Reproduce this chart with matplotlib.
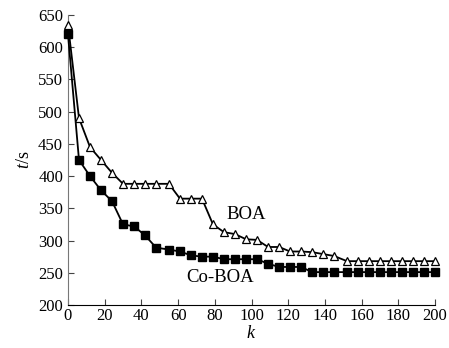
import matplotlib
matplotlib.use("Agg")
import matplotlib.pyplot as plt

plt.rcParams['font.family'] = 'Liberation Serif'
plt.rcParams['mathtext.fontset'] = 'custom'
plt.rcParams['mathtext.rm'] = 'Liberation Serif'
plt.rcParams['mathtext.it'] = 'Liberation Serif:italic'

# iteration number
k = [0, 6, 12, 18, 24, 30, 36, 42, 48, 55, 61, 67, 73, 79, 85, 91, 97,
     103, 109, 115, 121, 127, 133, 139, 145, 152, 158, 164, 170, 176,
     182, 188, 194, 200]

# BOA run time (s)
boa = [635, 490, 445, 425, 405, 388, 388, 388, 388, 388, 365, 365, 365,
       325, 313, 310, 302, 301, 290, 290, 283, 283, 282, 279, 276,
       268, 268, 268, 268, 268, 268, 268, 268, 268]

# Co-BOA run time (s)
coboa = [620, 425, 400, 378, 361, 325, 322, 308, 289, 286, 283, 277, 275,
         275, 271, 271, 271, 271, 264, 259, 259, 259, 251, 251, 251,
         251, 251, 251, 251, 251, 251, 251, 251, 251]

fig = plt.figure(figsize=(4.49, 3.48), dpi=100)
ax = fig.add_axes([0.1514, 0.1236, 0.8176, 0.8334])

ax.plot(k, coboa, color='black', lw=1.3, marker='s', markersize=5.2,
        markerfacecolor='black', markeredgecolor='black', zorder=3,
        clip_on=False)
ax.plot(k, boa, color='black', lw=1.3, marker='^', markersize=5.5,
        markerfacecolor='white', markeredgecolor='black', markeredgewidth=0.9,
        zorder=3, clip_on=False)

ax.text(97, 340, 'BOA', fontsize=13.5, ha='center', va='center')
ax.text(83, 243, 'Co-BOA', fontsize=13.5, ha='center', va='center')

ax.set_xlim(0, 200)
ax.set_ylim(200, 650)
ax.set_xticks(range(0, 201, 20))
ax.set_yticks(range(200, 651, 50))
ax.tick_params(direction='in', labelsize=12, length=4, color='#444444')
ax.tick_params(axis='x', pad=2)

for s in ['top', 'right']:
    ax.spines[s].set_visible(False)
ax.spines['left'].set_color('#777777')
ax.spines['bottom'].set_color('black')

ax.set_xlabel('$k$', fontsize=13, labelpad=1)
ax.set_ylabel('$t$/s', fontsize=13, labelpad=4)

fig.savefig('out.png', dpi=100)
